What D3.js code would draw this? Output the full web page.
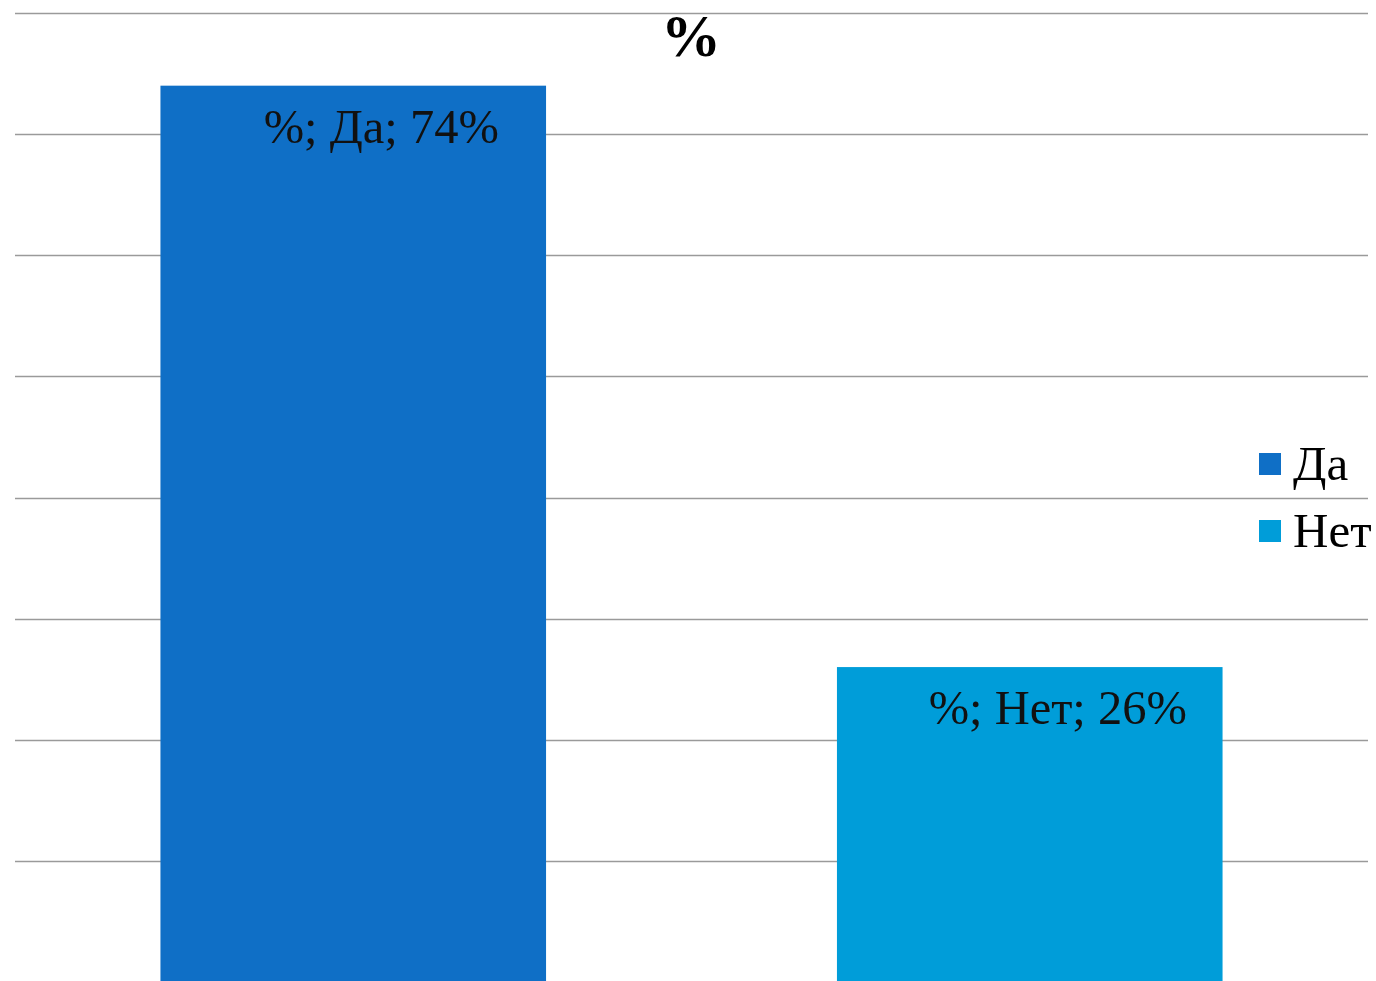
<!DOCTYPE html>
<html>
<head>
<meta charset="utf-8">
<script src="https://cdn.jsdelivr.net/npm/d3@7"></script>
<style>
  html, body { margin: 0; padding: 0; background: #fff; overflow: hidden; }
  svg { display: block; }
</style>
</head>
<body>
<svg id="chart" width="1376" height="981"></svg>
<script>
// Survey answers, share of respondents
const categories = ["Да", "Нет"];
const values = [0.74, 0.26];
const seriesName = "%";
const colors = ["#0f6fc6", "#009dd9"];
const gridTicks = [0.1, 0.2, 0.3, 0.4, 0.5, 0.6, 0.7, 0.8];

const svg = d3.select("#chart");
const serif = "'Liberation Serif', 'Times New Roman', serif";

const x = d3.scaleBand()
  .domain(categories)
  .range([15, 1368])
  .paddingInner(0.43)
  .paddingOuter(0.215);

const y = d3.scaleLinear()
  .domain([0, 0.8])
  .range([982, 13]);

// horizontal gridlines
svg.append("g")
  .selectAll("line")
  .data(gridTicks)
  .join("line")
  .attr("x1", 15)
  .attr("x2", 1368)
  .attr("y1", d => Math.round(y(d)) + 0.5)
  .attr("y2", d => Math.round(y(d)) + 0.5)
  .attr("stroke", "#9a9a9a")
  .attr("stroke-width", 1.6);

// bars
svg.append("g")
  .selectAll("rect")
  .data(categories)
  .join("rect")
  .attr("x", d => x(d))
  .attr("width", x.bandwidth())
  .attr("y", (d, i) => y(values[i]))
  .attr("height", (d, i) => y(0) - y(values[i]))
  .attr("fill", (d, i) => colors[i]);

// data labels
const fmt = d3.format(".0%");
svg.append("g")
  .selectAll("text")
  .data(categories)
  .join("text")
  .attr("x", d => x(d) + x.bandwidth() / 2 + 28)
  .attr("y", (d, i) => y(values[i]) + 57)
  .attr("text-anchor", "middle")
  .attr("font-family", serif)
  .attr("font-size", 48.5)
  .attr("fill", "#111")
  .text((d, i) => `${seriesName}; ${d}; ${fmt(values[i])}`);

// title
svg.append("text")
  .attr("x", 691)
  .attr("y", 56)
  .attr("text-anchor", "middle")
  .attr("font-family", serif)
  .attr("font-weight", "bold")
  .attr("font-size", 60)
  .attr("fill", "#000")
  .text(seriesName);

// legend
const legend = svg.append("g")
  .selectAll("g")
  .data(categories)
  .join("g")
  .attr("transform", (d, i) => `translate(1259, ${453 + i * 67})`);
legend.append("rect")
  .attr("width", 22)
  .attr("height", 22)
  .attr("fill", (d, i) => colors[i]);
legend.append("text")
  .attr("x", 34)
  .attr("y", 27)
  .attr("font-family", serif)
  .attr("font-size", 49)
  .attr("fill", "#000")
  .text(d => d);
</script>
</body>
</html>
